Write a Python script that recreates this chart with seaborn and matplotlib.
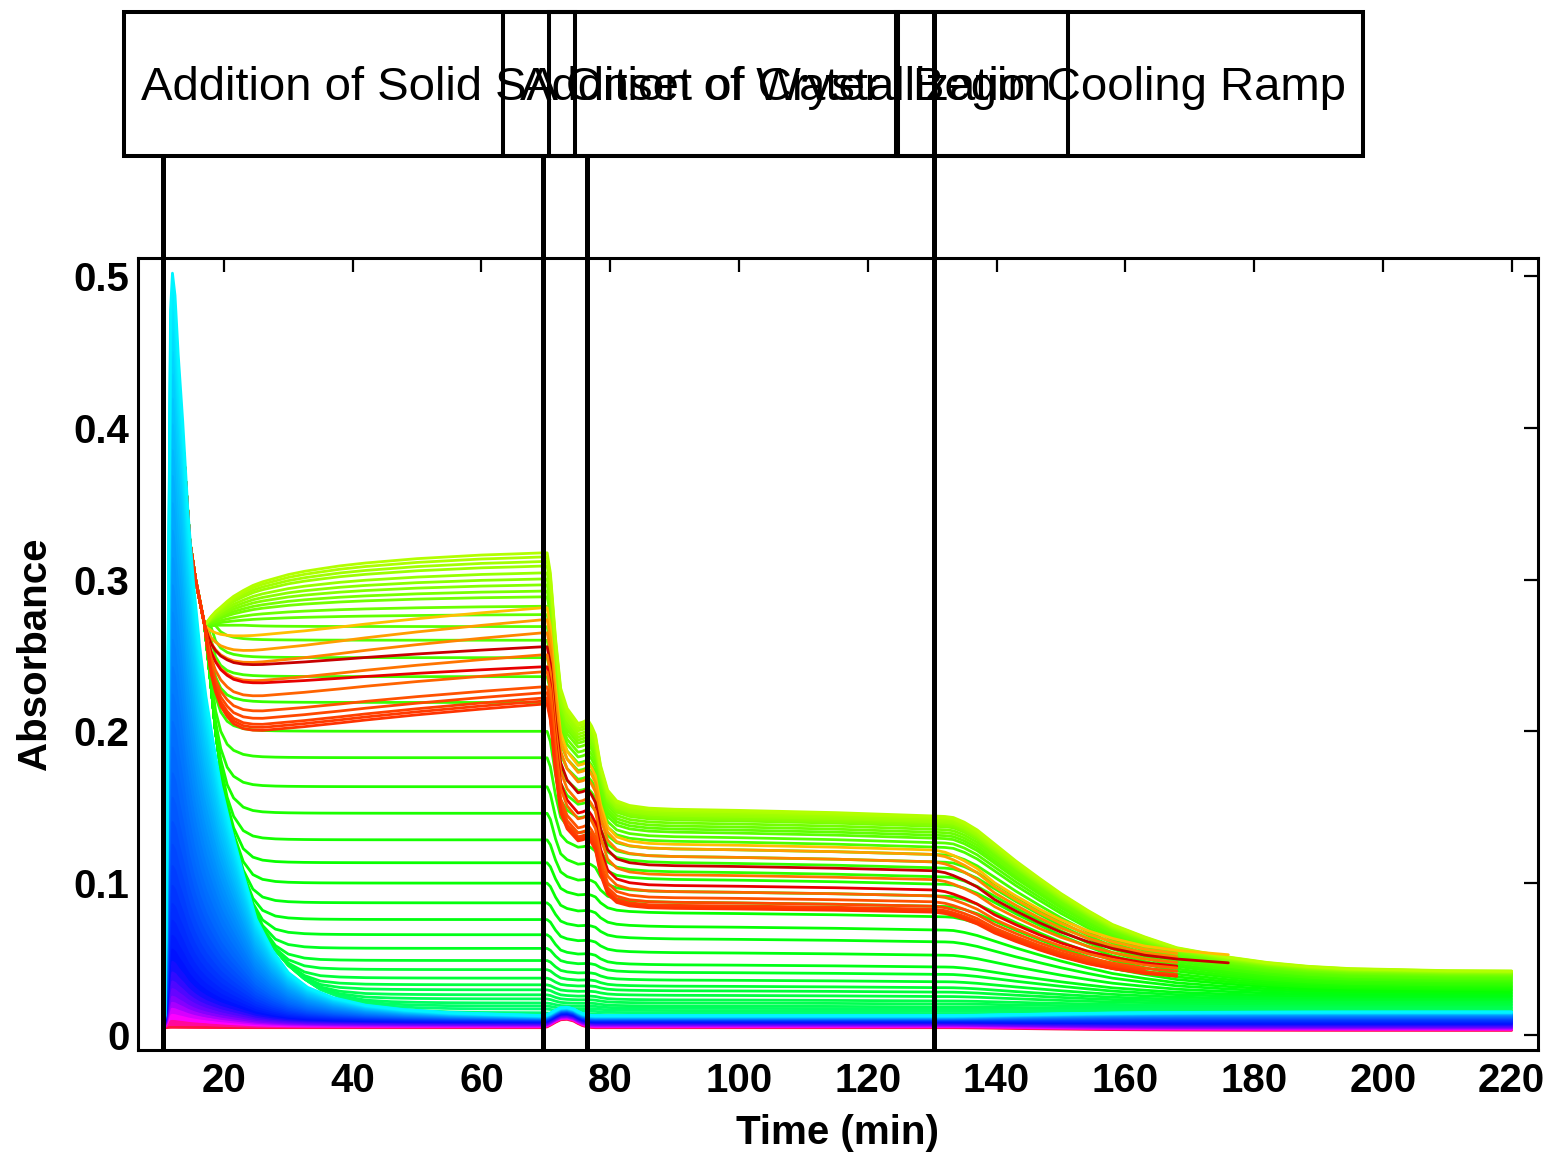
import numpy as np
import pandas as pd
import matplotlib
matplotlib.use("Agg")
import matplotlib.pyplot as plt
import seaborn as sns
from matplotlib.colors import LinearSegmentedColormap, to_hex
from matplotlib.patches import Rectangle
from matplotlib.lines import Line2D

# ---------------- data ----------------
event_times = [10.6, 69.6, 76.4, 130.3]
event_labels = ["Addition of Solid SA", "Addition of Water",
                "Onset of Crystallization", "Begin Cooling Ramp"]
x_ticks = [20, 40, 60, 80, 100, 120, 140, 160, 180, 200, 220]
y_ticks = [0, 0.1, 0.2, 0.3, 0.4, 0.5]
y_tick_labels = ["0", "0.1", "0.2", "0.3", "0.4", "0.5"]

# dissolution transient (short wavelengths): peak profile, normalised to 1 at the maximum
peak_t = [10.8, 11.1, 11.4, 11.7, 12.0, 12.4, 12.9, 13.6, 14.4, 15.3, 16.2, 17.2, 18.3,
          19.5, 21.0, 23.0, 25.0, 27.5, 30.0, 33.0, 37.0, 42.0, 48.0, 55.0, 62.0, 69.5]
peak_shape = [0.0, 0.2, 0.6, 0.95, 1.0, 0.97, 0.89, 0.80, 0.68, 0.58, 0.50, 0.43, 0.37,
              0.31, 0.255, 0.19, 0.13, 0.088, 0.058, 0.038, 0.024, 0.014, 0.008, 0.004,
              0.002, 0.0]
peak_height = [0.005, 0.009, 0.013, 0.017, 0.021, 0.025, 0.030, 0.035, 0.041, 0.048,
               0.056, 0.065, 0.075, 0.086, 0.098, 0.111, 0.125, 0.140, 0.156, 0.172,
               0.189, 0.206, 0.224, 0.242, 0.260, 0.278, 0.296, 0.314, 0.332, 0.350,
               0.368, 0.385, 0.402, 0.419, 0.435, 0.450, 0.464, 0.477, 0.490, 0.502]
peak_base = [0.0048, 0.0052, 0.0056, 0.0060, 0.0064, 0.0068, 0.0072, 0.0076, 0.0080, 0.0084,
             0.0088, 0.0091, 0.0094, 0.0097, 0.0099, 0.0101, 0.0103, 0.0104, 0.0106, 0.0107,
             0.0109, 0.0110, 0.0111, 0.0112, 0.0113, 0.0114, 0.0115, 0.0116, 0.0117, 0.0118,
             0.0119, 0.0120, 0.0121, 0.0122, 0.0123, 0.0124, 0.0125, 0.0126, 0.0127, 0.0128]
peak_final = [0.0030, 0.0034, 0.0038, 0.0042, 0.0046, 0.0050, 0.0055, 0.0060, 0.0066, 0.0072,
              0.0078, 0.0084, 0.0089, 0.0094, 0.0099, 0.0104, 0.0108, 0.0111, 0.0114, 0.0117,
              0.0120, 0.0123, 0.0126, 0.0129, 0.0131, 0.0133, 0.0135, 0.0137, 0.0139, 0.0141,
              0.0143, 0.0144, 0.0145, 0.0146, 0.0147, 0.0148, 0.0149, 0.0150, 0.0151, 0.0152]
water_bump_height = 0.0055

# common path of the longer wavelengths right after the solid is added
early_t = [11.0, 11.4, 11.8, 12.3, 13.0, 13.8, 14.7, 15.6, 16.3]
early_v = [0.006, 0.20, 0.42, 0.45, 0.425, 0.38, 0.325, 0.30, 0.285]
split_level = 0.27

# dissolution stage (after the split at t = 17 min)
t1 = [17, 17.5, 18, 18.7, 19.5, 20.5, 21.5, 23, 24.5, 26, 28, 30, 32.5, 35, 38, 42,
      46, 50, 55, 60, 65, 69.5]
rise_frac = [0, 0.06, 0.12, 0.19, 0.25, 0.33, 0.40, 0.48, 0.55, 0.60, 0.65, 0.70, 0.745,
             0.78, 0.82, 0.86, 0.89, 0.92, 0.945, 0.97, 0.985, 1.0]
fall_edge = [0.27, 0.25, 0.23, 0.20, 0.175, 0.15, 0.13, 0.105, 0.085, 0.07, 0.056,
             0.046, 0.037, 0.030, 0.025, 0.020, 0.017, 0.0145, 0.012, 0.010, 0.009, 0.008]
dip_frac = [0, 0.25, 0.45, 0.62, 0.75, 0.85, 0.92, 0.97, 0.99, 1, 1, 1, 1, 1, 1, 1, 1,
            1, 1, 1, 1, 1]
recover_frac = [0, 0, 0, 0, 0, 0.01, 0.02, 0.04, 0.06, 0.09, 0.13, 0.17, 0.22, 0.28,
                0.35, 0.45, 0.54, 0.63, 0.73, 0.83, 0.92, 1.0]

# water addition, crystallization onset and hold
t2 = [70.2, 70.7, 71.5, 72.3, 73.3, 74.3, 75.0, 75.7, 76.5, 77.1, 77.7, 78.5, 79.6,
      81, 83, 86, 90, 100, 115, 130.3]
water_frac = [1.0, 0.92, 0.66, 0.46, 0.38, 0.345, 0.32, 0.325, 0.335, 0.31, 0.275,
              0.152, 0.058, 0.02, 0.006, 0.0, 0.0, 0.0, 0.0, 0.0]
hold_drift = [1.03, 1.03, 1.03, 1.03, 1.03, 1.03, 1.03, 1.03, 1.03, 1.03, 1.03, 1.03,
              1.025, 1.02, 1.015, 1.01, 1.005, 1.0, 0.99, 0.975]
water_bump = [0.1, 0.3, 0.65, 0.95, 1.0, 0.8, 0.5, 0.25, 0.08, 0.02, 0, 0, 0, 0, 0, 0,
              0, 0, 0, 0]

# cooling ramp
t3 = [132, 133.3, 135, 137, 139.7, 143, 146.6, 150, 154.2, 158, 163, 168, 176, 182,
      188.4, 195, 201, 210, 220]
cool_frac = [0.003, 0.01, 0.04, 0.09, 0.18, 0.29, 0.40, 0.50, 0.61, 0.70, 0.78, 0.85,
             0.91, 0.945, 0.97, 0.985, 0.99, 0.998, 1.0]
cool_frac_red = [0.02, 0.05, 0.10, 0.17, 0.30, 0.42, 0.54, 0.64, 0.74, 0.81, 0.88, 0.92,
                 0.96, 0.98, 0.99, 1, 1, 1, 1]

# green / yellow-green wavelengths
green_level1 = [0.0145, 0.017, 0.019, 0.021, 0.0237, 0.0264, 0.0297, 0.033, 0.0374, 0.043,
                0.049, 0.057, 0.066, 0.076, 0.087, 0.100, 0.1134, 0.1285, 0.146, 0.1635,
                0.1826, 0.200, 0.219, 0.236, 0.2485, 0.260, 0.269, 0.277, 0.2825, 0.2887,
                0.2925, 0.2966, 0.3005, 0.3045, 0.309, 0.312, 0.315, 0.3177]
green_level3 = [0.0130, 0.0145, 0.0160, 0.0175, 0.019, 0.021, 0.023, 0.026, 0.029, 0.032,
                0.036, 0.041, 0.046, 0.054, 0.063, 0.071, 0.080, 0.087, 0.094, 0.102,
                0.107, 0.113, 0.117, 0.122, 0.127, 0.130, 0.133, 0.135, 0.137, 0.139,
                0.141, 0.142, 0.143, 0.144, 0.145, 0.146, 0.147, 0.148]
green_final = [0.0130, 0.0142, 0.0152, 0.0162, 0.0172, 0.0182, 0.0192, 0.0202, 0.0212,
               0.0222, 0.0232, 0.0242, 0.0252, 0.0262, 0.0272, 0.0282, 0.0292, 0.0301,
               0.0310, 0.0319, 0.0328, 0.0337, 0.0346, 0.0355, 0.0364, 0.0372, 0.0380,
               0.0387, 0.0393, 0.0398, 0.0402, 0.0406, 0.0410, 0.0413, 0.0416, 0.0418,
               0.0420, 0.0422]

# orange / red wavelengths
red_dip = [0.262, 0.252, 0.244, 0.243, 0.232, 0.231, 0.222, 0.212, 0.207, 0.203, 0.201, 0.199]
red_level1 = [0.2815, 0.2736, 0.265, 0.2558, 0.2505, 0.2426, 0.2393, 0.2294, 0.2255,
              0.222, 0.220, 0.218]
red_level3 = [0.125, 0.122, 0.117, 0.111, 0.105, 0.098, 0.094, 0.090, 0.087, 0.085,
              0.084, 0.083]
red_final = [0.050, 0.048, 0.046, 0.045, 0.043, 0.041, 0.040, 0.038, 0.037, 0.036, 0.035, 0.035]
red_last_t = [176, 168, 172, 176, 168, 172, 168, 172, 163, 168, 163, 168]
red_colors = ["#ffc000", "#ff9e00", "#ff8400", "#c80000", "#ff7400", "#e80000",
              "#ff6400", "#ff5200", "#ff4800", "#ff4000", "#ff3a00", "#ff3300"]

# ---------------- curve assembly ----------------
def softplus(x, k):
    return np.logaddexp(0.0, k * x) / k

t1a, t2a, t3a = np.array(t1), np.array(t2), np.array(t3)
wf, dr, bump = np.array(water_frac), np.array(hold_drift), np.array(water_bump)

peak_time = np.concatenate([peak_t, t2a, t3a])
peak_curves = []
for P, b, bf in zip(peak_height, peak_base, peak_final):
    v1 = b + (P - b) * np.array(peak_shape)
    v2 = b + water_bump_height * bump
    v3 = b + (bf - b) * np.array(cool_frac)
    peak_curves.append((peak_time, np.concatenate([v1, v2, v3])))

green_curves = []
for p1, p3, pf in zip(green_level1, green_level3, green_final):
    if p1 >= split_level:
        v1 = split_level + (p1 - split_level) * np.array(rise_frac)
    else:
        v1 = p1 + np.minimum(softplus(np.array(fall_edge) - p1, 6.0 / p1), split_level - p1)
    base = p3 * dr
    v2 = base + (p1 - base) * wf
    v3 = base[-1] + (pf - base[-1]) * np.array(cool_frac)
    green_curves.append((np.concatenate([early_t, t1a, t2a, t3a]),
                         np.concatenate([early_v, v1, v2, v3])))

red_curves = []
for dip, p1, p3, pf, tl in zip(red_dip, red_level1, red_level3, red_final, red_last_t):
    v1 = (split_level + (dip - split_level) * np.array(dip_frac)
          + (p1 - dip) * np.array(recover_frac))
    base = p3 * dr
    v2 = base + (p1 - base) * wf
    keep = t3a <= tl
    v3 = (base[-1] + (pf - base[-1]) * np.array(cool_frac_red))[keep]
    red_curves.append((np.concatenate([early_t, t1a, t2a, t3a[keep]]),
                       np.concatenate([early_v, v1, v2, v3])))

# colours: spectral order from crimson through blue to cyan, green to yellow-green
peak_cmap = LinearSegmentedColormap.from_list(
    "peaks", [(0.0, "#ff1040"), (0.05, "#ff00ff"), (0.12, "#8a00ff"), (0.25, "#0010ff"),
              (0.5, "#0064ff"), (0.72, "#00a0ff"), (0.88, "#00d0ff"), (1.0, "#00f4ff")])
peak_colors = [to_hex(peak_cmap(i / (len(peak_height) - 1))) for i in range(len(peak_height))]
hsv = plt.get_cmap("hsv")
green_colors = [to_hex(hsv(0.42 - 0.20 * i / (len(green_level1) - 1)))
                for i in range(len(green_level1))]

# ---------------- figure ----------------
sns.set_theme(style="white")
plt.rcParams["font.family"] = ["Liberation Sans", "DejaVu Sans"]
plt.rcParams["text.color"] = "black"
plt.rcParams["axes.labelcolor"] = "black"

W, H = 1546, 1161
fig = plt.figure(figsize=(W / 100, H / 100), dpi=100)
ax = fig.add_axes([138 / W, 1 - 1050 / H, 1400 / W, 792 / H])


def draw_family(curves, colors, lw, z, prefix):
    frames = []
    pal = {}
    for k, ((t, v), c) in enumerate(zip(curves, colors)):
        name = f"{prefix}{k:02d}"
        frames.append(pd.DataFrame({"t": t, "A": v, "curve": name}))
        pal[name] = c
    df = pd.concat(frames, ignore_index=True)
    sns.lineplot(data=df, x="t", y="A", hue="curve", palette=pal, estimator=None,
                 sort=False, legend=False, lw=lw, ax=ax, zorder=z)


draw_family(green_curves, green_colors, 2.0, 2, "g")
draw_family(red_curves, red_colors, 2.0, 3, "r")

# band between neighbouring short-wavelength traces, shaded in the upper trace's colour
for k in range(1, len(peak_curves)):
    ax.fill_between(peak_time, peak_curves[k - 1][1], peak_curves[k][1],
                    color=peak_colors[k], lw=0, zorder=4)
draw_family(peak_curves, peak_colors, 2.0, 4, "p")

ax.set_xlim(6.65, 224.1)
ax.set_ylim(-0.0099, 0.512)
ax.set_xticks(x_ticks)
ax.set_xticklabels([str(v) for v in x_ticks])
ax.set_yticks(y_ticks)
ax.set_yticklabels(y_tick_labels)
ax.tick_params(direction="in", length=10, width=1.6, top=True, right=True,
               labelsize=29, pad=9, colors="black")
ax.tick_params(axis="y", pad=6)
for lbl in ax.get_xticklabels() + ax.get_yticklabels():
    lbl.set_fontweight("bold")
for sp in ax.spines.values():
    sp.set_linewidth(2.2)
    sp.set_color("black")
ax.set_xlabel("Time (min)", fontsize=29, fontweight="bold", labelpad=10, color="black")
ax.set_ylabel("Absorbance", fontsize=29, fontweight="bold", labelpad=14, color="black")
ax.grid(False)

# event labels with outlined boxes
box_top, box_bottom, text_base = 12, 156, 100
text_left = [141, 520, 566, 913]
fig.canvas.draw()
renderer = fig.canvas.get_renderer()
for x0, lab in zip(text_left, event_labels):
    txt = fig.text(x0 / W, 1 - text_base / H, lab, fontsize=34, ha="left",
                   va="baseline", color="black", zorder=20)
    bb = txt.get_window_extent(renderer)
    left, right = bb.x0 - 17, bb.x1 + 17
    rect = Rectangle((left / W, 1 - box_bottom / H), (right - left) / W,
                     (box_bottom - box_top) / H, transform=fig.transFigure,
                     fill=False, ec="black", lw=2.9, zorder=19)
    fig.add_artist(rect)

# vertical event markers from the axis floor up to the boxes
ax_bottom_px = 1050
for i, t in enumerate(event_times):
    xd = ax.transData.transform((t, 0))[0]
    top_px = box_top if i == len(event_times) - 1 else box_bottom
    fig.add_artist(Line2D([xd / W, xd / W], [1 - ax_bottom_px / H, 1 - top_px / H],
                          transform=fig.transFigure, color="black", lw=3.6,
                          solid_capstyle="butt", zorder=21))

fig.savefig("out.png", dpi=100)
